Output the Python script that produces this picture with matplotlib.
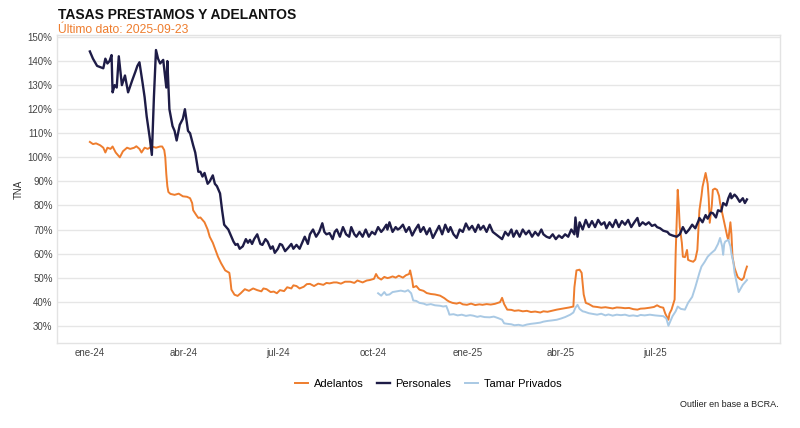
import matplotlib.pyplot as plt
import matplotlib.dates as mdates
import pandas as pd

plt.rcParams['font.family'] = ['Liberation Sans', 'DejaVu Sans']

inicio = pd.Timestamp('2024-01-01')

# dias desde 2024-01-01 y tasa (TNA %)
dias_pers = [0, 3, 7, 10, 13, 15, 17, 19, 21, 22, 24, 26, 28, 31, 34, 37, 41, 44, 46, 48,
             51, 53, 55, 58, 60, 62, 64, 66, 68, 71, 74, 75, 77, 80, 82, 84, 87, 90, 92, 95,
             97, 100, 102, 105, 107, 109, 111, 114, 116, 119, 121, 123, 126, 128, 130, 132,
             134, 136, 137, 139, 141, 143, 145, 148, 151, 153, 155, 157, 159, 162, 165, 167,
             170, 172, 175, 177, 179, 182, 184, 186, 189, 192, 195, 197, 200, 203, 206, 208,
             211, 213, 216, 219, 222, 225, 227, 229, 232, 235, 237, 239, 242, 245, 248, 251,
             253, 256, 258, 261, 264, 267, 270, 273, 276, 279, 282, 284, 287, 288, 290, 293,
             296, 298, 300, 303, 306, 309, 312, 315, 318, 320, 323, 326, 329, 332, 335, 338,
             341, 344, 347, 349, 352, 355, 358, 361, 364, 367, 370, 373, 376, 378, 381, 384,
             387, 390, 393, 396, 399, 402, 405, 408, 410, 413, 416, 419, 422, 425, 428, 431,
             434, 437, 439, 442, 445, 448, 451, 454, 457, 460, 463, 466, 469, 470, 472, 474,
             477, 480, 483, 486, 489, 492, 495, 498, 500, 503, 506, 509, 512, 515, 518, 521,
             524, 527, 530, 532, 535, 538, 541, 544, 547, 549, 552, 555, 559, 561, 564, 568,
             571, 574, 577, 580, 583, 586, 589, 590, 593, 596, 598, 601, 603, 606, 608, 611,
             613, 616, 618, 620, 621, 624, 626, 629, 632, 634, 636]
personales = [144, 141, 138, 137.5, 137, 141, 139, 140, 142.5, 127, 130, 129, 142, 130, 134, 127,
              132, 135.5, 138, 139.5, 131, 125, 117, 108, 101, 125, 144.6, 141, 139, 140.5, 129,
              140, 120, 113, 111, 107, 113.5, 116, 120, 111, 110, 105, 102, 94, 94, 92, 93.5, 89,
              90, 92.5, 89, 88, 85, 78, 72, 71, 70, 68, 67, 65, 63.6, 64, 62, 63, 66, 64.5, 65.7,
              64, 66, 68, 64, 63.6, 66, 65, 62, 63, 60.3, 62, 64, 63.6, 61, 62.4, 64, 62, 63.6, 62,
              65, 67, 64, 68, 70, 67, 69, 72.6, 69, 68, 68.5, 66, 69, 70, 67, 71, 68, 67, 71, 68,
              67, 69, 67, 70, 67, 69, 68, 71, 69, 70, 72, 70, 73, 69, 71, 70, 70.5, 72, 69, 71,
              67.5, 70, 72, 69, 71, 68, 70.5, 66.5, 69, 71.5, 68, 72, 69, 71, 68, 66.5, 70, 69,
              72.5, 70, 71.5, 69, 72, 70, 71.5, 69, 72, 69, 68, 67, 66, 69, 67.5, 70, 67, 69.5,
              67, 70, 68, 69.5, 67, 69, 67.5, 70, 68, 67, 66.5, 68, 66, 67.5, 66.5, 68, 67, 70,
              68, 75, 67, 73, 70, 74, 71, 73.5, 71, 74, 72, 73, 70.5, 73, 71, 74, 71, 73.5, 72,
              74, 71, 73, 74.8, 71.5, 73, 72, 73, 71.5, 72, 71, 70.5, 69.5, 69, 68, 67.5, 67, 68,
              71, 68.5, 70, 72, 70.5, 73.5, 74.8, 73, 76, 74.5, 77, 76.8, 75, 78, 77.5, 81, 80,
              83, 85, 83, 84.5, 83.6, 81.5, 83, 81, 82.5]

dias_adel = [0, 3, 6, 10, 13, 15, 17, 20, 22, 25, 27, 29, 32, 36, 39, 43, 45, 48, 50, 53, 56,
             60, 64, 68, 70, 72, 73, 74, 75, 76, 78, 82, 86, 90, 94, 97, 99, 100, 103, 105, 107,
             109, 111, 113, 114, 116, 119, 122, 124, 127, 131, 135, 136, 137, 140, 143, 146, 150,
             154, 158, 162, 166, 168, 171, 175, 178, 181, 184, 188, 191, 195, 197, 200, 203, 207,
             210, 213, 217, 221, 226, 229, 232, 236, 239, 243, 247, 252, 256, 259, 264, 268, 271,
             275, 277, 279, 282, 285, 288, 290, 293, 296, 299, 303, 306, 309, 310, 312, 313, 316,
             319, 323, 326, 330, 334, 339, 343, 346, 348, 351, 355, 358, 361, 365, 369, 373, 377,
             380, 384, 388, 392, 395, 397, 399, 401, 404, 408, 411, 415, 419, 423, 427, 431, 436,
             439, 443, 447, 452, 456, 460, 464, 468, 469, 471, 474, 476, 478, 480, 483, 487, 491,
             495, 499, 502, 506, 510, 514, 518, 522, 526, 530, 533, 537, 542, 546, 549, 552, 555,
             557, 560, 561, 563, 566, 567, 569, 570, 571, 573, 574, 576, 578, 579, 581, 584, 586,
             588, 589, 590, 592, 593, 596, 598, 599, 600, 602, 603, 605, 607, 609, 610, 612, 615,
             617, 618, 620, 621, 622, 624, 627, 629, 631, 633, 634, 636]
adelantos = [106.4, 105.5, 105.8, 105, 104, 102, 104, 103.5, 104.5, 102, 101, 100, 102.5, 104,
             103.5, 104, 104.6, 103.5, 102, 104, 103.5, 104.5, 104, 104.5, 104.5, 103, 100, 93,
             88, 85.6, 84.8, 84.4, 84.9, 83.8, 83.6, 83, 81, 78, 76, 74.8, 75, 74, 73, 71, 70, 67,
             64.5, 61, 58.7, 56, 53, 52, 49, 45, 42.9, 42.4, 43.5, 45.2, 44.5, 45.5, 44.8, 44.3,
             45.5, 45.2, 44, 44.2, 43.5, 44.8, 44.4, 46, 45.5, 46.8, 46.5, 45.5, 46.2, 47.3, 47.4,
             46.5, 47.5, 47, 47.8, 47.6, 48, 48, 47.5, 48.3, 48.3, 47.8, 48.8, 48, 48.8, 49, 49.5,
             51.5, 50, 49.2, 50.3, 49.8, 50, 50.5, 50, 50.8, 50, 51, 51.5, 53, 49, 46, 46.5, 45,
             44.5, 43.6, 43.2, 43, 42.5, 41.5, 40.5, 40, 39.5, 39.2, 39.6, 38.9, 38.7, 39.2, 38.6,
             38.9, 38.7, 39, 38.8, 39.1, 39.5, 39.8, 41.6, 39, 36.7, 36.6, 36.2, 36.4, 36, 36.2,
             35.7, 35.9, 35.5, 36, 35.8, 36.2, 36.7, 37, 37.3, 37.6, 38, 46, 53, 53.3, 52, 43,
             39.5, 39, 38, 37.8, 37.5, 37.7, 37.5, 37.2, 37.6, 37.5, 37.3, 37.4, 36.9, 36.7, 37.1,
             37.2, 37.5, 37.8, 38.5, 37.8, 37.5, 35, 32.5, 35, 36.7, 40.9, 60, 86.5, 80, 71, 64.5,
             58.7, 58.5, 61.5, 57.4, 57, 56.6, 57.5, 61.5, 70, 78, 84, 87.7, 93.5, 89, 83, 72.8,
             80, 86.5, 87, 86.5, 84, 81, 77, 71, 67, 65.7, 73, 68, 58.7, 54, 50.3, 49.5, 49, 50,
             52, 54.6]

dias_tamar = [279, 282, 285, 287, 290, 293, 297, 301, 305, 308, 311, 313, 316, 319, 323, 326,
              330, 334, 339, 342, 345, 347, 348, 352, 356, 360, 364, 368, 371, 375, 378, 382,
              387, 391, 395, 399, 401, 404, 408, 411, 415, 419, 423, 427, 431, 436, 439, 443,
              447, 452, 456, 460, 465, 468, 470, 472, 474, 477, 479, 483, 487, 491, 495, 499,
              502, 506, 510, 514, 518, 522, 526, 530, 533, 537, 542, 547, 552, 555, 558, 560,
              562, 564, 567, 569, 572, 576, 579, 583, 586, 588, 590, 592, 595, 598, 601, 605,
              608, 610, 612, 613, 614, 615, 618, 620, 621, 623, 624, 626, 628, 630, 632, 634, 636]
tamar = [43.5, 42.5, 44, 42.8, 43, 44, 44.3, 44.6, 44.2, 44.8, 43.5, 40.5, 40.3, 39.5, 39.2,
         38.7, 39, 38.5, 38.3, 38, 38.2, 36, 34.6, 34.8, 34.3, 34.6, 34.1, 34.4, 34.2, 33.7, 34,
         33.6, 33.5, 33.8, 33.2, 32.5, 31, 30.8, 30.6, 30.2, 30.4, 30, 30.5, 30.8, 31, 31.3,
         31.7, 32, 32.2, 32.5, 33, 33.6, 34.6, 35.5, 37.5, 38.7, 37, 36, 35.8, 35.2, 34.9, 34.6,
         35, 34.3, 34.7, 34.2, 34.6, 34.4, 34.6, 34.1, 34.3, 34, 34.5, 34.3, 34.6, 34.3, 34.1,
         34, 33, 30, 32, 34, 36, 38, 37, 36.7, 39.5, 42, 46, 49, 52, 54.6, 56.5, 58.7, 60, 61.5,
         64, 66.5, 63, 59.5, 64, 65, 65.7, 63, 60, 56, 52, 48, 44, 45.5, 47, 48, 49]

ticks_x = ['2024-01-01', '2024-04-01', '2024-07-01', '2024-10-01',
           '2025-01-01', '2025-04-01', '2025-07-01']
labels_x = ['ene-24', 'abr-24', 'jul-24', 'oct-24', 'ene-25', 'abr-25', 'jul-25']
ticks_y = list(range(30, 151, 10))


def fechas(d):
    return inicio + pd.to_timedelta(d, unit='D')


fig = plt.figure(figsize=(8, 4.28), dpi=100)
ax = fig.add_axes([0.071, 0.199, 0.904, 0.719])

ax.plot(fechas(dias_adel), adelantos, color='#EE7D2E', lw=1.4, label='Adelantos')
ax.plot(fechas(dias_pers), personales, color='#1E1C47', lw=1.7, label='Personales')
ax.plot(fechas(dias_tamar), tamar, color='#A9C9E4', lw=1.4, label='Tamar Privados')

ax.set_xlim(pd.Timestamp('2023-11-30'), pd.Timestamp('2025-10-30'))
ax.set_ylim(22.9, 150.8)
ax.set_yticks(ticks_y)
ax.set_yticklabels([f'{v}%' for v in ticks_y])
ax.set_xticks(pd.to_datetime(ticks_x))
ax.set_xticklabels(labels_x)
ax.tick_params(length=0, labelsize=7, colors='#444444')
ax.tick_params(axis='y', pad=3)
ax.tick_params(axis='x', pad=4)
ax.grid(axis='y', color='#E6E6E6', lw=1)
ax.set_axisbelow(True)
for s in ax.spines.values():
    s.set_color('#E3E3E3')
    s.set_linewidth(1)
ax.set_ylabel('TNA', fontsize=7, color='#333333', labelpad=3)

fig.text(0.072, 0.965, 'TASAS PRESTAMOS Y ADELANTOS', fontsize=10, fontweight='bold',
         ha='left', va='center', color='#111111')
fig.text(0.072, 0.931, 'Último dato: 2025-09-23', fontsize=8.7, color='#EE7D2E',
         ha='left', va='center')

fig.legend(loc='center', bbox_to_anchor=(0.535, 0.103), ncol=3, frameon=False,
           fontsize=8, handlelength=1.2, columnspacing=1.2, handletextpad=0.5)
fig.text(0.973, 0.056, 'Outlier en base a BCRA.', fontsize=6.5, ha='right', va='center',
         color='#222222')

fig.savefig('out.png', dpi=100, facecolor='white')
